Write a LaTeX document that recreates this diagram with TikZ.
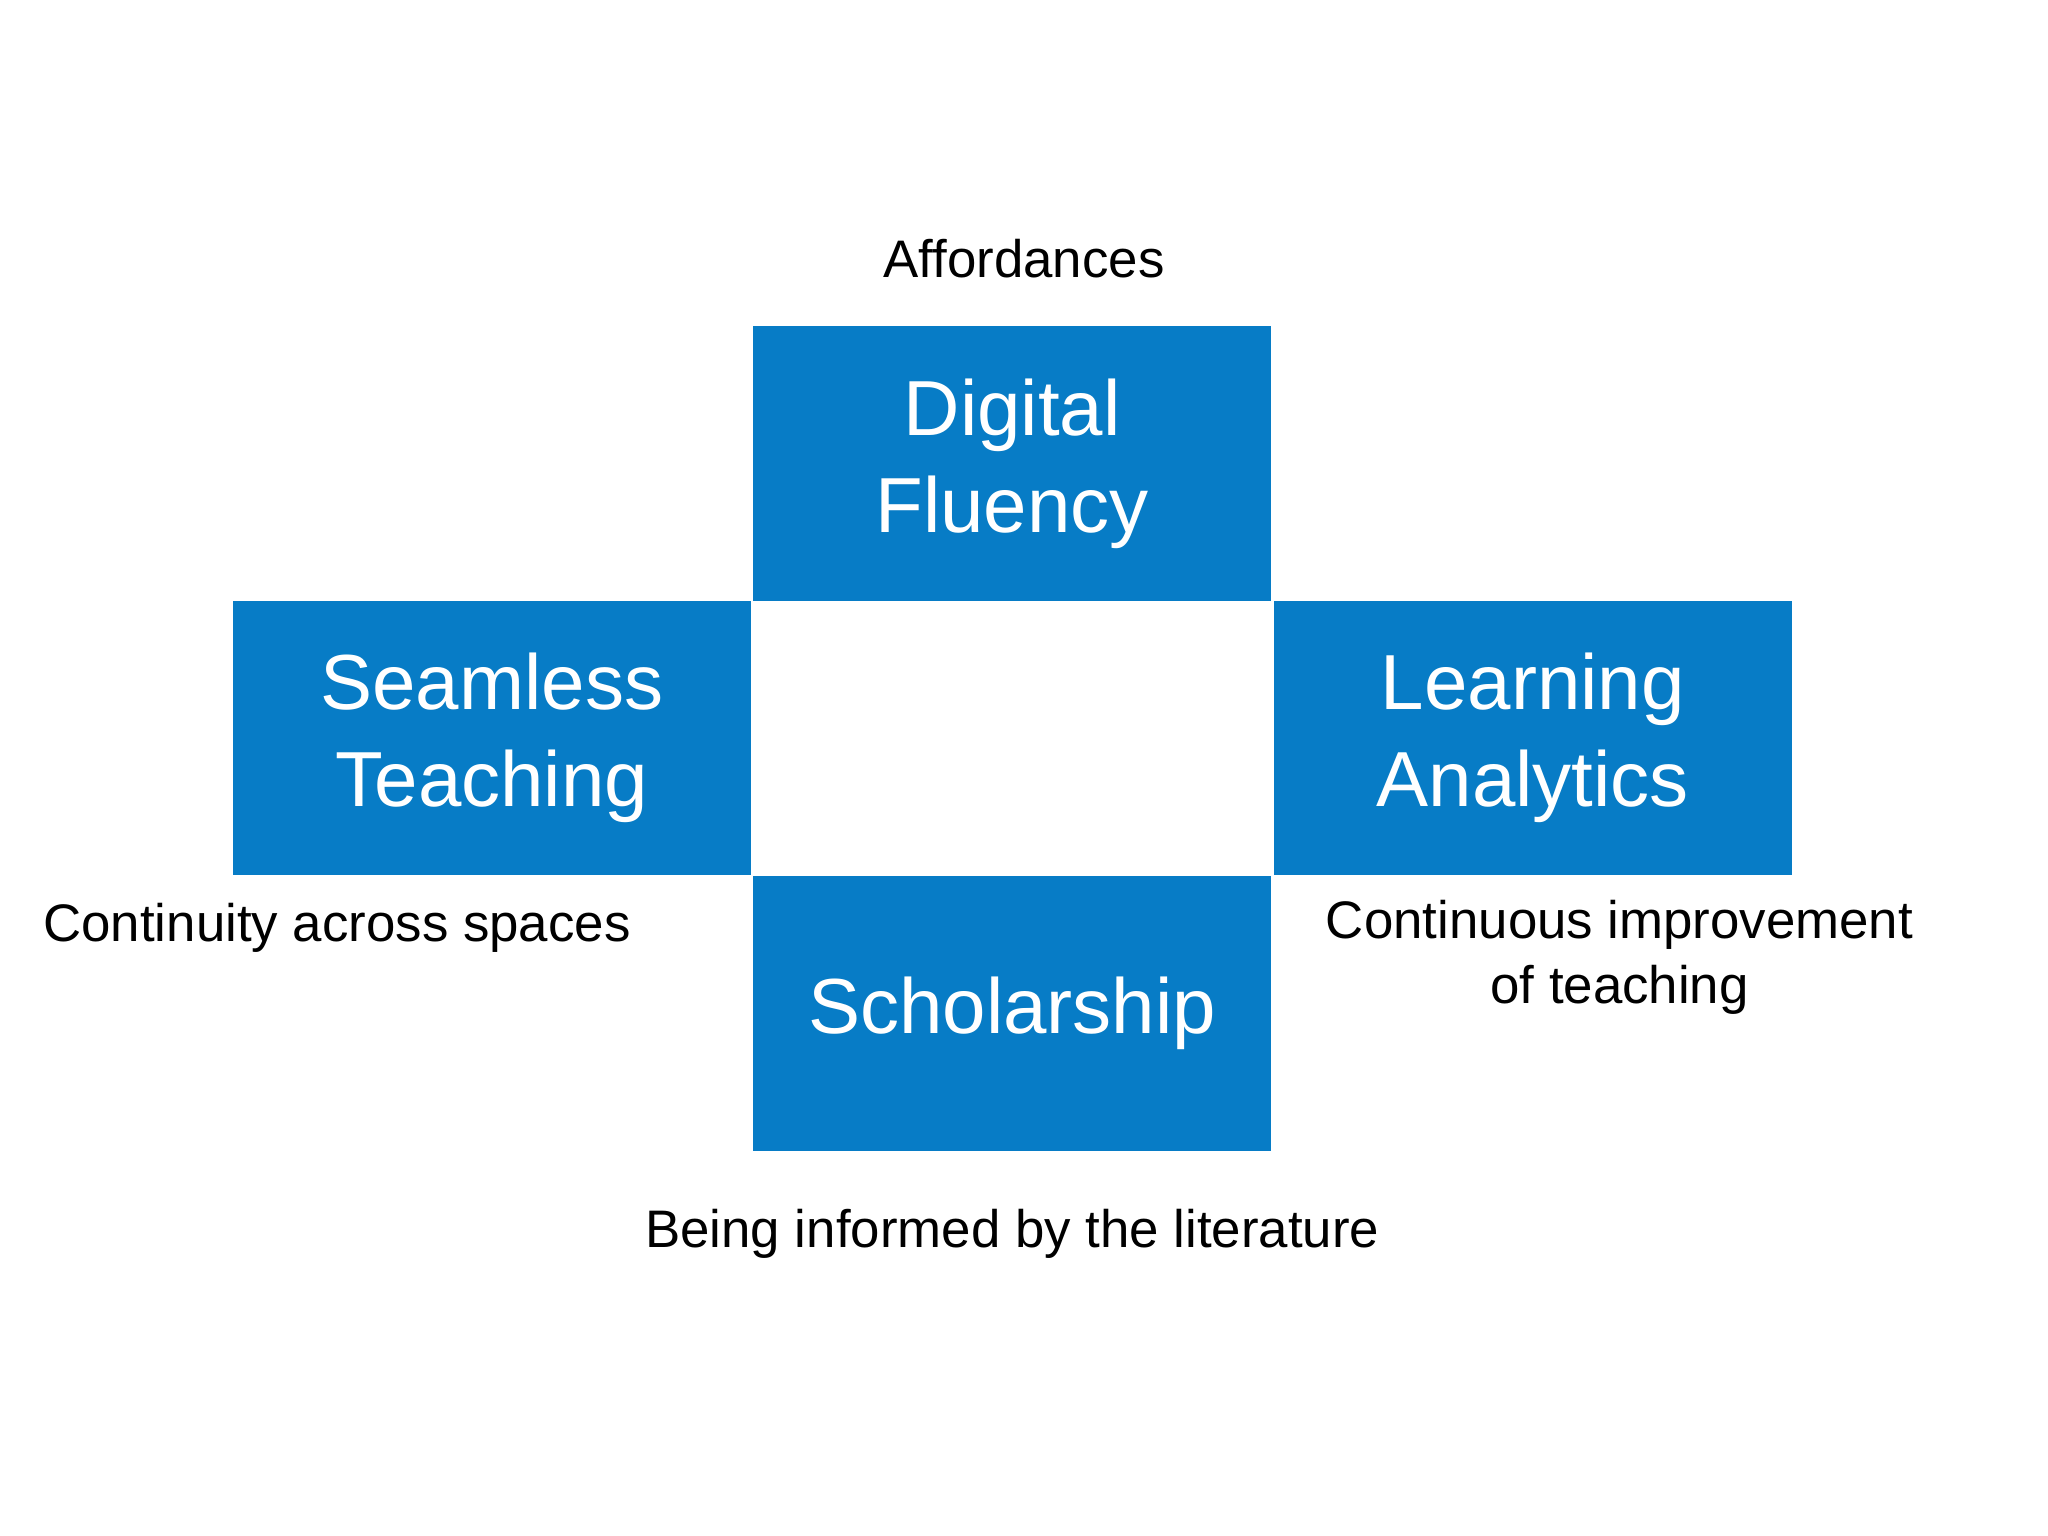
\documentclass[tikz,border=0pt]{standalone}
\usepackage{fontspec}
\setmainfont{Liberation Sans}
\definecolor{boxblue}{HTML}{077CC6}
\begin{document}
\begin{tikzpicture}[x=0.01cm,y=-0.01cm,
  blk/.style={fill=boxblue,draw=none,minimum width=3.96cm,minimum height=2.1cm,inner sep=0pt,text=white,font=\fontsize{17}{21}\selectfont,align=center},
  lbl/.style={font=\fontsize{11.5}{14}\selectfont,align=center}]
\useasboundingbox[fill=white] (0,0) rectangle (1568,1176);
\node[blk] (df) at (775,355) {Digital\\Fluency};
\node[blk] (st) at (376.5,565) {Seamless\\Teaching};
\node[blk] (la) at (1173.5,565) {Learning\\Analytics};
\node[blk] (sc) at (775,776) {Scholarship};
\node[lbl] (aff) at (784,198) {Affordances};
\node[lbl] (cas) at (258,710) {Continuity across spaces};
\node[lbl] (cit) at (1240,733) {Continuous improvement\\of teaching};
\node[lbl] (bil) at (775,945) {Being informed by the literature};
\end{tikzpicture}
\end{document}
